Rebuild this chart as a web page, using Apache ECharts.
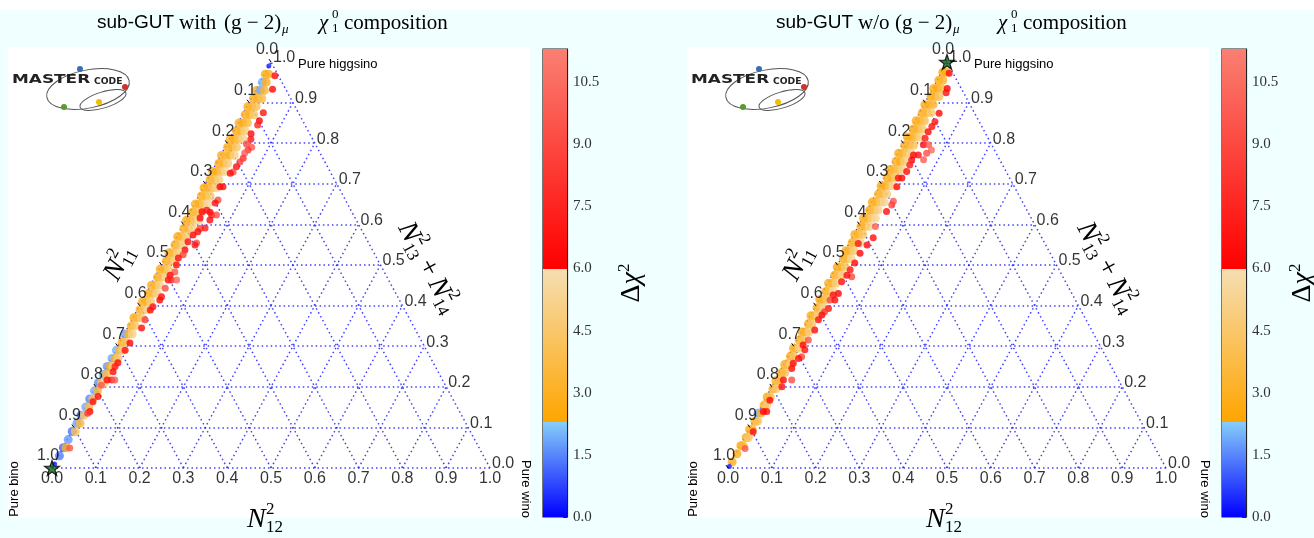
<!DOCTYPE html>
<html><head><meta charset="utf-8">
<script src="https://cdn.jsdelivr.net/npm/echarts@6/dist/echarts.min.js"></script>
<style>html,body{margin:0;padding:0;background:#fff}#c{width:1314px;height:538px}</style>
</head><body><div id="c"></div>
<script>
// ---------------- DATA ----------------
// ternary tick values (N11^2 on left edge, N12^2 on bottom, N13^2+N14^2 on right)
const ternaryTicks = [0.0,0.1,0.2,0.3,0.4,0.5,0.6,0.7,0.8,0.9,1.0];
// colour bar ticks and range of delta chi^2
const cbTicks = [0.0,1.5,3.0,4.5,6.0,7.5,9.0,10.5];
const chiMax = 11.3;
const chiBreaks = [2.3, 6.0];

// points: [N12^2 (wino), N13^2+N14^2 (higgsino), delta chi^2]
// left panel: sub-GUT with (g-2)_mu
const bandWith = [
[0.000,0.990,0.3],
[0.002,0.970,2.7],[0.010,0.970,3.1],
[0.005,0.950,2.0],[0.014,0.950,2.9],
[0.002,0.930,2.9],[0.011,0.930,1.9],[0.020,0.930,3.2],
[0.005,0.910,2.7],[0.015,0.910,3.0],[0.024,0.910,3.8],
[0.002,0.890,2.6],[0.011,0.890,3.3],[0.021,0.890,4.0],
[0.006,0.870,2.8],[0.016,0.870,3.1],[0.026,0.870,4.4],
[0.002,0.850,2.9],[0.011,0.850,2.7],[0.021,0.850,3.6],
[0.006,0.830,2.6],[0.016,0.830,3.4],[0.026,0.830,4.8],
[0.002,0.810,3.0],[0.011,0.810,2.8],[0.021,0.810,3.9],[0.031,0.810,5.2],
[0.006,0.790,2.7],[0.016,0.790,3.2],[0.026,0.790,4.3],
[0.002,0.770,2.8],[0.011,0.770,3.5],[0.021,0.770,3.0],[0.031,0.770,5.0],
[0.006,0.750,2.6],[0.016,0.750,3.3],[0.026,0.750,4.6],
[0.002,0.730,2.9],[0.011,0.730,2.7],[0.021,0.730,4.1],[0.031,0.730,5.4],
[0.006,0.710,2.8],[0.016,0.710,3.6],[0.026,0.710,4.9],
[0.002,0.690,2.6],[0.011,0.690,3.1],[0.021,0.690,3.8],[0.030,0.690,5.1],
[0.006,0.670,2.7],[0.016,0.670,3.4],[0.026,0.670,4.5],
[0.002,0.650,3.0],[0.011,0.650,2.8],[0.021,0.650,4.2],[0.031,0.650,5.5],
[0.006,0.630,2.6],[0.016,0.630,3.9],[0.026,0.630,4.7],
[0.002,0.610,2.8],[0.011,0.610,3.3],[0.021,0.610,4.4],[0.031,0.610,5.6],
[0.006,0.590,2.9],[0.016,0.590,3.5],[0.026,0.590,5.0],
[0.002,0.570,2.7],[0.011,0.570,3.2],[0.021,0.570,4.6],
[0.006,0.550,2.6],[0.016,0.550,4.0],[0.026,0.550,5.3],
[0.002,0.530,2.9],[0.011,0.530,3.4],[0.021,0.530,4.8],
[0.006,0.510,2.7],[0.016,0.510,3.7],[0.026,0.510,5.2],
[0.002,0.490,2.8],[0.011,0.490,3.1],[0.021,0.490,4.5],
[0.006,0.470,2.6],[0.016,0.470,3.9],[0.025,0.470,5.4],
[0.002,0.450,3.0],[0.011,0.450,3.3],[0.020,0.450,4.9],
[0.006,0.430,2.7],[0.016,0.430,3.6],[0.024,0.430,5.1],
[0.002,0.410,2.8],[0.011,0.410,3.0],[0.020,0.410,4.7],
[0.006,0.390,2.9],[0.015,0.390,4.2],[0.023,0.390,5.3],
[0.002,0.370,2.6],[0.011,0.370,3.5],[0.019,0.370,4.6],
[0.006,0.350,2.8],[0.015,0.350,4.4],
[0.001,0.330,1.8],[0.010,0.330,3.2],[0.018,0.330,5.0],
[0.005,0.310,2.7],[0.013,0.310,4.1],
[0.002,0.290,2.0],[0.009,0.290,3.4],[0.016,0.290,4.8],
[0.002,0.270,1.9],[0.009,0.270,3.0],[0.015,0.270,4.5],
[0.001,0.250,1.7],[0.008,0.250,2.9],[0.014,0.250,4.7],
[0.002,0.230,2.0],[0.009,0.230,3.6],
[0.001,0.210,1.6],[0.008,0.210,4.0],[0.015,0.210,5.2],
[0.002,0.190,1.9],[0.009,0.190,3.3],
[0.001,0.170,1.5],[0.008,0.170,4.2],
[0.002,0.150,1.9],[0.009,0.150,3.8],
[0.001,0.130,1.4],[0.008,0.130,4.6],
[0.002,0.110,1.8],[0.009,0.110,3.5],
[0.001,0.090,1.3],[0.008,0.090,4.1],
[0.002,0.070,1.7],
[0.001,0.050,1.1],[0.007,0.050,3.2],
[0.002,0.030,1.4],
[0.001,0.010,0.3]
];
const redWith = [
[0.026,0.966,6.5],[0.037,0.933,6.3],[0.045,0.875,6.8],[0.046,0.855,6.2],[0.047,0.845,7.5],
[0.043,0.823,6.4],[0.049,0.810,6.9],[0.045,0.798,8.8],[0.061,0.790,9.5],[0.056,0.783,8.2],
[0.052,0.776,9.8],[0.055,0.763,7.9],[0.052,0.754,8.5],[0.050,0.742,6.6],[0.049,0.729,9.2],
[0.044,0.726,6.4],[0.037,0.693,6.1],[0.044,0.693,6.7],[0.049,0.660,9.0],[0.046,0.653,6.5],
[0.046,0.630,6.3],[0.053,0.623,7.1],[0.027,0.631,6.2],[0.043,0.590,8.6],[0.042,0.582,6.4],
[0.036,0.635,6.8],[0.064,0.623,9.3],[0.055,0.611,6.6],[0.030,0.616,6.4],[0.054,0.591,6.9],
[0.035,0.574,6.2],[0.053,0.554,9.1],[0.032,0.557,6.5],[0.052,0.549,6.8],[0.035,0.537,6.3],
[0.037,0.525,8.7],[0.030,0.517,6.6],[0.034,0.500,6.4],[0.039,0.483,9.4],[0.032,0.475,6.2],
[0.034,0.463,6.7],[0.041,0.463,7.6],[0.053,0.463,10.2],[0.037,0.443,8.9],[0.039,0.422,6.5],
[0.039,0.414,6.3],[0.032,0.397,6.9],[0.030,0.389,6.4],[0.030,0.365,8.4],[0.032,0.345,6.6],
[0.024,0.308,6.2],[0.022,0.290,6.5],[0.021,0.259,6.3],[0.019,0.250,7.2],[0.021,0.237,6.4],
[0.028,0.217,6.8],[0.017,0.217,6.3],[0.011,0.204,9.6],[0.017,0.176,6.4],[0.012,0.163,6.6],
[0.017,0.139,6.2],[0.014,0.135,8.3],[0.016,0.049,9.4],[0.035,0.217,9.9]
];
const bestWith = [[0.0, 0.0]];

// right panel: sub-GUT w/o (g-2)_mu
const bandWithout = [
[0.003,0.975,2.5],[0.010,0.975,2.9],
[0.004,0.955,2.6],[0.013,0.955,3.2],
[0.002,0.935,2.8],[0.011,0.935,2.6],[0.020,0.935,3.7],
[0.006,0.915,2.5],[0.015,0.915,3.1],[0.024,0.915,4.2],
[0.002,0.895,2.7],[0.011,0.895,2.9],[0.021,0.895,3.5],
[0.006,0.875,2.6],[0.016,0.875,3.4],[0.026,0.875,4.6],
[0.002,0.855,2.8],[0.011,0.855,3.0],[0.021,0.855,3.9],
[0.006,0.835,2.5],[0.016,0.835,3.3],[0.026,0.835,4.4],
[0.002,0.815,2.9],[0.011,0.815,2.7],[0.021,0.815,3.6],[0.031,0.815,5.0],
[0.006,0.795,2.6],[0.016,0.795,3.5],[0.026,0.795,4.1],
[0.002,0.775,2.7],[0.011,0.775,3.1],[0.021,0.775,4.3],[0.030,0.775,5.3],
[0.006,0.755,2.8],[0.016,0.755,2.9],[0.026,0.755,4.7],
[0.002,0.735,2.5],[0.011,0.735,3.4],[0.021,0.735,3.8],[0.030,0.735,5.1],
[0.006,0.715,2.7],[0.016,0.715,3.2],[0.025,0.715,4.5],
[0.002,0.695,2.6],[0.011,0.695,2.8],[0.021,0.695,4.0],[0.029,0.695,5.4],
[0.006,0.675,2.9],[0.016,0.675,3.6],[0.025,0.675,4.8],
[0.002,0.655,2.7],[0.011,0.655,3.0],[0.021,0.655,4.4],[0.029,0.655,5.2],
[0.006,0.635,2.5],[0.016,0.635,3.7],[0.025,0.635,4.9],
[0.002,0.615,2.8],[0.011,0.615,3.2],[0.021,0.615,4.6],[0.029,0.615,5.5],
[0.006,0.595,2.6],[0.016,0.595,3.4],[0.025,0.595,5.0],
[0.002,0.575,2.9],[0.011,0.575,3.1],[0.020,0.575,4.3],
[0.006,0.555,2.7],[0.015,0.555,3.8],[0.024,0.555,5.2],
[0.002,0.535,2.6],[0.011,0.535,3.3],[0.020,0.535,4.7],
[0.006,0.515,2.8],[0.015,0.515,3.5],[0.024,0.515,5.3],
[0.002,0.495,2.5],[0.011,0.495,3.0],[0.020,0.495,4.5],
[0.006,0.475,2.7],[0.015,0.475,3.9],[0.023,0.475,5.1],
[0.002,0.455,2.9],[0.011,0.455,3.2],[0.019,0.455,4.8],
[0.006,0.435,2.6],[0.015,0.435,3.6],[0.022,0.435,5.4],
[0.002,0.415,2.8],[0.010,0.415,3.1],[0.018,0.415,4.4],
[0.006,0.395,2.5],[0.014,0.395,4.0],[0.021,0.395,5.2],
[0.002,0.375,2.7],[0.010,0.375,3.4],[0.018,0.375,4.9],
[0.006,0.355,2.8],[0.014,0.355,4.3],
[0.002,0.335,2.6],[0.010,0.335,3.0],[0.017,0.335,4.7],
[0.005,0.315,2.9],[0.013,0.315,3.9],
[0.002,0.295,2.7],[0.009,0.295,3.3],[0.015,0.295,5.0],
[0.005,0.275,2.5],[0.012,0.275,4.2],
[0.002,0.255,2.8],[0.009,0.255,3.5],[0.015,0.255,4.8],
[0.005,0.235,2.6],[0.012,0.235,4.0],
[0.002,0.215,2.9],[0.009,0.215,3.6],
[0.005,0.195,2.7],[0.012,0.195,4.5],
[0.002,0.175,2.6],[0.009,0.175,3.8],
[0.005,0.155,2.8],[0.011,0.155,4.6],
[0.001,0.135,1.9],[0.008,0.135,3.2],
[0.004,0.115,2.7],[0.010,0.115,4.1],
[0.002,0.095,2.6],[0.008,0.095,3.7],
[0.004,0.075,2.8],[0.009,0.075,4.4],
[0.002,0.055,2.5],[0.007,0.055,3.4],
[0.003,0.035,2.7],
[0.002,0.015,2.9],
[0.001,0.004,0.3]
];
const redWithout = [
[0.019,0.972,6.4],[0.033,0.935,6.2],[0.036,0.924,6.6],[0.045,0.874,6.3],[0.046,0.853,6.8],
[0.045,0.841,6.5],[0.043,0.828,6.2],[0.044,0.812,6.9],[0.048,0.796,6.4],[0.060,0.796,9.6],
[0.073,0.783,10.3],[0.066,0.775,9.2],[0.067,0.759,9.8],[0.038,0.771,6.3],[0.049,0.771,6.7],
[0.040,0.759,6.2],[0.042,0.746,6.9],[0.043,0.730,6.5],[0.040,0.714,6.3],[0.032,0.714,6.8],
[0.039,0.693,6.4],[0.049,0.657,9.4],[0.050,0.648,8.7],[0.046,0.632,6.6],[0.039,0.595,9.9],
[0.048,0.567,6.5],[0.043,0.549,6.3],[0.021,0.553,6.9],[0.037,0.529,6.2],[0.037,0.505,6.4],
[0.035,0.488,6.8],[0.047,0.471,8.9],[0.034,0.475,6.3],[0.030,0.459,6.5],[0.037,0.430,6.2],
[0.027,0.426,6.6],[0.026,0.414,9.0],[0.037,0.414,6.4],[0.033,0.393,6.9],[0.028,0.385,8.5],
[0.026,0.377,6.3],[0.024,0.365,6.7],[0.028,0.340,6.4],[0.026,0.315,9.3],[0.020,0.303,6.2],
[0.030,0.291,6.6],[0.031,0.274,8.8],[0.026,0.270,6.5],[0.020,0.258,6.3],[0.023,0.245,6.4],
[0.037,0.217,9.1],[0.018,0.217,6.2],[0.023,0.200,6.5],[0.012,0.167,6.3],[0.019,0.139,6.6],
[0.011,0.139,6.2],[0.013,0.089,6.4],[0.015,0.048,9.5]
];
const bestWithout = [[0.0, 1.0]];

// ---------------- HELPERS ----------------
const T = (b, c) => [b + c / 2, c];   // ternary (wino, higgsino) -> cartesian
const segs = [
  [0, chiBreaks[0], [0,0,255], [135,206,250]],
  [chiBreaks[0], chiBreaks[1], [255,165,0], [245,222,179]],
  [chiBreaks[1], chiMax, [255,0,0], [250,128,114]]
];
function mix(a, b, t){ return 'rgb(' + a.map((v,i)=>Math.round(v+(b[i]-v)*t)).join(',') + ')'; }
function chiColor(v){
  for (const s of segs){ if (v < s[1] || s === segs[2]) { const t = Math.max(0, Math.min(1,(v - s[0])/(s[1]-s[0]))); return mix(s[2], s[3], t);} }
}
const cbStops = [];
segs.forEach(s => { cbStops.push({offset: s[0]/chiMax, color: mix(s[2],s[3],0)}); cbStops.push({offset: s[1]/chiMax, color: mix(s[2],s[3],1)}); });

const panels = [
  {band: bandWith, red: redWith, best: bestWith, gx: 52, gy: 62, dx: 0, title: 'with'},
  {band: bandWithout, red: redWithout, best: bestWithout, gx: 728, gy: 62, dx: 679, title: 'w/o'}
];
const W = 438, H = 406;
const starPath = 'path://M12,0 L14.9,8.3 L23.4,8.3 L16.5,13.4 L19.1,21.6 L12,16.5 L4.9,21.6 L7.5,13.4 L0.6,8.3 L9.1,8.3 Z';
const sans = 'Liberation Sans', serif = 'Liberation Serif';

const grids = [], xAxes = [], yAxes = [], series = [], graphics = [];

graphics.push({type:'rect', z:-100, shape:{x:0,y:10,width:1314,height:528}, style:{fill:'#f0ffff'}, silent:true});

panels.forEach((p, i) => {
  grids.push({left: p.gx, top: p.gy, width: W, height: H});
  xAxes.push({type:'value', gridIndex:i, min:0, max:1, show:false});
  yAxes.push({type:'value', gridIndex:i, min:0, max:1, show:false});
  // grid lines
  const lines = [];
  for (let k = 0; k < 10; k++) {
    const v = ternaryTicks[k];
    lines.push({coords:[T(0,v), T(1-v,v)]});
    lines.push({coords:[T(v,0), T(v,1-v)]});
    lines.push({coords:[T(1-v,0), T(0,1-v)]});
  }
  series.push({type:'lines', coordinateSystem:'cartesian2d', xAxisIndex:i, yAxisIndex:i, silent:true, clip:false, z:1,
    lineStyle:{color:'rgba(45,45,255,0.9)', width:1.5, type:[1.5,3], opacity:1}, data: lines});
  series.push({type:'lines', coordinateSystem:'cartesian2d', xAxisIndex:i, yAxisIndex:i, silent:true, clip:false, z:6,
    lineStyle:{color:'#000', width:1, opacity:1},
    data: ternaryTicks.map(v => ({coords:[T(0,1-v), T(-0.008,1-v+0.007)]}))});
  const pts = arr => arr.map(d => ({value: T(d[0], d[1]), symbolSize: d[2] < 0.5 ? 5 : undefined, itemStyle:{color: chiColor(d[2])}}));
  series.push({type:'scatter', xAxisIndex:i, yAxisIndex:i, clip:false, symbolSize:9, z:3, silent:true, data: pts(p.band)});
  series.push({type:'scatter', xAxisIndex:i, yAxisIndex:i, clip:false, symbolSize:7, z:4, silent:true, data: pts(p.red)});
  series.push({type:'scatter', xAxisIndex:i, yAxisIndex:i, clip:false, symbol: starPath, symbolSize:15, z:7, silent:true,
    itemStyle:{color:'#0d5e1a', borderColor:'#000', borderWidth:1.2}, data: p.best.map(d => T(d[0], d[1]))});
  const lab = (data, off, align) => ({type:'scatter', xAxisIndex:i, yAxisIndex:i, clip:false, symbolSize:0, z:8, silent:true,
    label:{show:true, position:'inside', offset:off, align:align, verticalAlign:'middle', formatter:'{b}', color:'#000', fontFamily:sans, fontSize:16},
    data});
  series.push(lab(ternaryTicks.map(v => ({value:T(0,1-v), name:v.toFixed(1)})), [-4,-12], 'center'));
  series.push(lab(ternaryTicks.map(v => ({value:T(1-v,v), name:v.toFixed(1)})), [2,-4], 'left'));
  series.push(lab(ternaryTicks.map(v => ({value:T(v,0), name:v.toFixed(1)})), [0,11], 'center'));

  // white plot area
  graphics.push({type:'rect', z:-90, shape:{x:8+p.dx, y:47, width:522, height:471}, style:{fill:'#fff'}, silent:true});
});

// colour bars
[543, 1222].forEach((cx, j) => {
  const gi = 2 + j;
  grids.push({left: cx, top: 49, width: 24, height: 468, show: true, borderColor:'#222', borderWidth:1.2, backgroundColor:'transparent'});
  xAxes.push({type:'category', gridIndex:gi, data:['cb'], show:false});
  yAxes.push({type:'value', gridIndex:gi, min:0, max:chiMax, interval:1.5, position:'right',
    axisLine:{show:true, lineStyle:{color:'#222', width:1.2}},
    axisTick:{show:true, inside:true, length:4, lineStyle:{color:'#000', width:1.5}},
    splitLine:{show:false},
    axisLabel:{show:true, showMaxLabel:false, margin:6, color:'#333', fontFamily:serif, fontSize:15,
      formatter: v => cbTicks.some(t => Math.abs(t - v) < 1e-6) ? v.toFixed(1) : ''}});
  series.push({type:'bar', xAxisIndex:gi, yAxisIndex:gi, barWidth:'100%', silent:true, z:1, data:[chiMax],
    itemStyle:{color:{type:'linear', x:0, y:1, x2:0, y2:0, colorStops: cbStops}}});
});

// ---------------- TEXT / DECOR ----------------
function txt(x, y, text, o) {
  return Object.assign({type:'text', x, y, z:100, silent:true,
    style: Object.assign({text, fill:'#000', fontFamily: serif, fontSize: 21, align:'left', verticalAlign:'middle'}, o || {})});
}
function group(x, y, rot, children){ return {type:'group', x, y, rotation: rot, z:100, children}; }
function nSym(x0, sub, size) {
  const s = size || 28;
  return [
    {type:'text', x:x0, y:0, style:{text:'N', fontFamily:serif, fontStyle:'italic', fontSize:s, fill:'#000', align:'left', verticalAlign:'middle'}},
    {type:'text', x:x0+19, y:-10, style:{text:'2', fontFamily:serif, fontSize:17, fill:'#000', align:'left', verticalAlign:'middle'}},
    {type:'text', x:x0+19, y:8, style:{text:sub, fontFamily:serif, fontSize:17, fill:'#000', align:'left', verticalAlign:'middle'}}
  ];
}
function logo(x0, y0) {
  return group(x0, y0, 0, [
    {type:'ellipse', x:76, y:27, rotation:0.2, shape:{cx:0, cy:0, rx:42, ry:19}, style:{fill:'none', stroke:'#555', lineWidth:1}},
    {type:'ellipse', x:91, y:38, rotation:0.3, shape:{cx:0, cy:0, rx:24, ry:8}, style:{fill:'none', stroke:'#555', lineWidth:1}},
    {type:'text', x:0, y:18, scaleX:1.3, style:{text:'MASTER', fontFamily:'DejaVu Sans', fontWeight:'bold', fontSize:13, fill:'#222', align:'left', verticalAlign:'middle'}},
    {type:'text', x:82, y:20, scaleX:1.15, style:{text:'CODE', fontFamily:'DejaVu Sans', fontWeight:'bold', fontSize:8, fill:'#222', align:'left', verticalAlign:'middle'}},
    {type:'circle', shape:{cx:68, cy:7, r:3}, style:{fill:'#3a6db5'}},
    {type:'circle', shape:{cx:113, cy:25, r:3}, style:{fill:'#d03030'}},
    {type:'circle', shape:{cx:52, cy:45, r:3}, style:{fill:'#5a9a30'}},
    {type:'circle', shape:{cx:87, cy:40, r:3}, style:{fill:'#f0c000'}}
  ]);
}
const ang = Math.atan2(H, W / 2);
panels.forEach((p, i) => {
  const d = p.dx;
  // title
  graphics.push(txt(97 + d, 23, 'sub-GUT', {fontFamily: sans, fontSize: 19}));
  graphics.push(txt(i ? 858 : 179, 23, p.title));
  graphics.push(txt(i ? 895 : 224, 23, '(g − 2)'));
  graphics.push(txt(i ? 953 : 282, 30, 'μ', {fontSize: 13, fontStyle: 'italic'}));
  graphics.push(txt(319 + d, 23, 'χ', {fontStyle: 'italic'}));
  graphics.push(txt(332 + d, 15, '0', {fontSize: 13}));
  graphics.push(txt(332 + d, 29, '1', {fontSize: 13}));
  graphics.push(txt(344 + d, 23, 'composition'));
  // vertex labels
  graphics.push(txt(298 + d - (i ? 3 : 0), 64, 'Pure higgsino', {fontFamily: sans, fontSize: 13}));
  graphics.push(group(14 + d, 489, Math.PI / 2, [{type:'text', x:0, y:0, style:{text:'Pure bino', fontFamily:sans, fontSize:13, fill:'#000', align:'center', verticalAlign:'middle'}}]));
  graphics.push(group(526 + d, 489, -Math.PI / 2, [{type:'text', x:0, y:0, style:{text:'Pure wino', fontFamily:sans, fontSize:13, fill:'#000', align:'center', verticalAlign:'middle'}}]));
  // axis titles
  graphics.push(group(266 + d, 520, 0, nSym(-19, '12')));
  graphics.push(group(120 + d, 262, ang, nSym(-19, '11')));
  graphics.push(group(428 + d, 268, -ang, [].concat(
    nSym(-50, '13'),
    [{type:'text', x:0, y:0, style:{text:'+', fontFamily:serif, fontSize:28, fill:'#000', align:'center', verticalAlign:'middle'}}],
    nSym(13, '14'))));
  // colour bar title
  graphics.push(group((i ? 1303 : 632), 283, Math.PI / 2, [
    {type:'text', x:0, y:0, style:{text:'{a|Δ}{b|χ}{c|2}', align:'center', verticalAlign:'middle',
      rich:{a:{fontFamily:serif, fontSize:28, fill:'#000'}, b:{fontFamily:serif, fontStyle:'italic', fontSize:28, fill:'#000'}, c:{fontFamily:serif, fontSize:17, fill:'#000', padding:[0,0,14,0]}}}}
  ]));
  graphics.push(logo(12 + d, 62));
});

const chart = echarts.init(document.getElementById('c'));
chart.setOption({
  animation: false,
  backgroundColor: '#ffffff',
  grid: grids, xAxis: xAxes, yAxis: yAxes, series,
  graphic: {elements: graphics}
});
</script></body></html>
